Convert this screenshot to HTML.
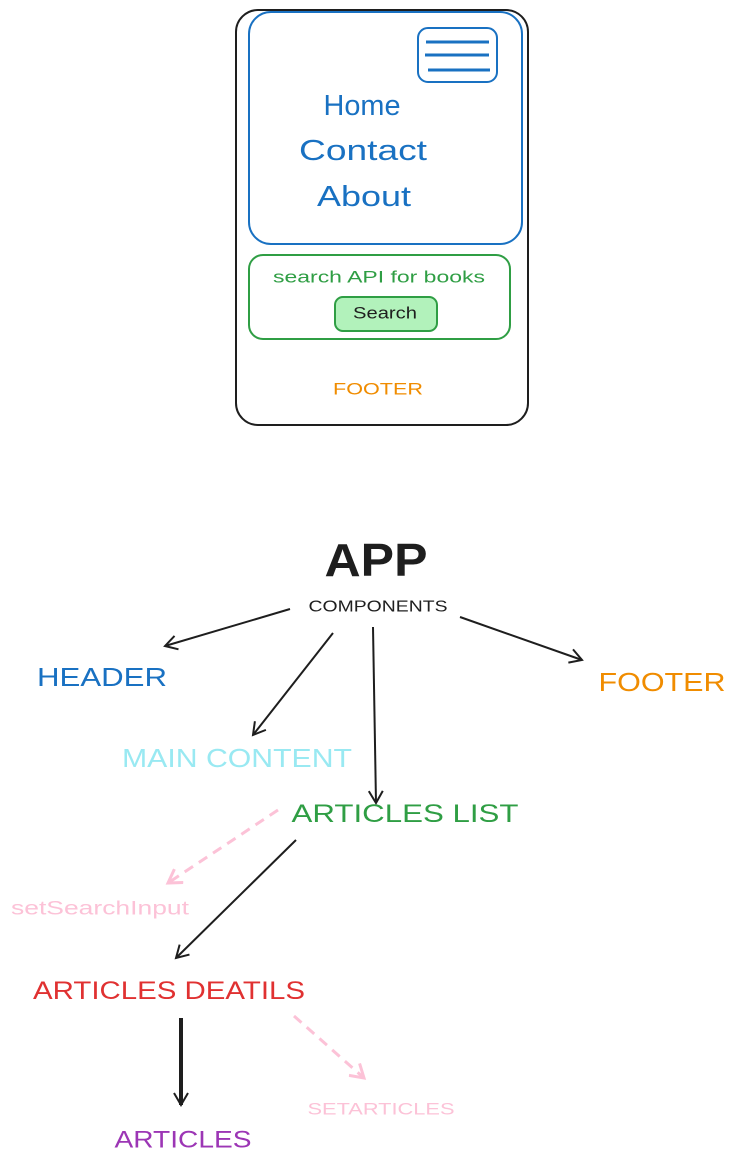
<!DOCTYPE html>
<html><head><meta charset="utf-8"><style>
html,body{margin:0;padding:0;background:#fff;width:741px;height:1168px;overflow:hidden}
svg text{font-family:"Liberation Sans",sans-serif;text-anchor:middle;dominant-baseline:central}
</style></head><body>
<svg width="741" height="1168" viewBox="0 0 741 1168" xmlns="http://www.w3.org/2000/svg">
<defs>
<marker id="ah" markerWidth="16" markerHeight="16" refX="13" refY="8" orient="auto" markerUnits="userSpaceOnUse"><path d="M1,1 L13,8 L1,15" fill="none" stroke="#1e1e1e" stroke-width="2"/></marker>
<marker id="ahp" markerWidth="18" markerHeight="18" refX="14" refY="9" orient="auto" markerUnits="userSpaceOnUse"><path d="M1,1 L14,9 L1,17" fill="none" stroke="#fcc2d7" stroke-width="3"/></marker>
</defs>
<rect x="236" y="10" width="292" height="415" rx="22" fill="none" stroke="#1e1e1e" stroke-width="2"/>
<rect x="249" y="12" width="273" height="232" rx="22" fill="none" stroke="#1971c2" stroke-width="2"/>
<rect x="418" y="28" width="79" height="54" rx="10" fill="none" stroke="#1971c2" stroke-width="2"/>
<g stroke="#1971c2" stroke-width="3"><line x1="426" y1="42" x2="489" y2="42"/><line x1="425" y1="55" x2="489" y2="55"/><line x1="428" y1="70" x2="490" y2="70"/></g>
<g fill="#1971c2" font-size="29"><text x="362" y="106" textLength="77" lengthAdjust="spacingAndGlyphs">Home</text><text x="363" y="151" textLength="128" lengthAdjust="spacingAndGlyphs">Contact</text><text x="364" y="197" textLength="94" lengthAdjust="spacingAndGlyphs">About</text></g>
<rect x="249" y="255" width="261" height="84" rx="14" fill="none" stroke="#2f9e44" stroke-width="2"/>
<text x="379" y="277" fill="#2f9e44" font-size="17" textLength="212" lengthAdjust="spacingAndGlyphs">search API for books</text>
<rect x="335" y="297" width="102" height="34" rx="8" fill="#b2f2bb" stroke="#2f9e44" stroke-width="2"/>
<text x="385" y="313" fill="#1e1e1e" font-size="17" textLength="64" lengthAdjust="spacingAndGlyphs">Search</text>
<text x="378" y="389" fill="#f08c00" font-size="17" textLength="90" lengthAdjust="spacingAndGlyphs">FOOTER</text>
<text x="376" y="560" fill="#1e1e1e" font-size="46" font-weight="bold" textLength="103" lengthAdjust="spacingAndGlyphs">APP</text>
<text x="378" y="607" fill="#1e1e1e" font-size="16" textLength="139" lengthAdjust="spacingAndGlyphs">COMPONENTS</text>
<text x="102" y="677" fill="#1971c2" font-size="26" textLength="130" lengthAdjust="spacingAndGlyphs">HEADER</text>
<text x="662" y="682" fill="#f08c00" font-size="26" textLength="127" lengthAdjust="spacingAndGlyphs">FOOTER</text>
<text x="237" y="758" fill="#99e9f2" font-size="26" textLength="230" lengthAdjust="spacingAndGlyphs">MAIN CONTENT</text>
<text x="405" y="814" fill="#2f9e44" font-size="25" textLength="227" lengthAdjust="spacingAndGlyphs">ARTICLES LIST</text>
<text x="100" y="909" fill="#fcc2d7" font-size="19" textLength="178" lengthAdjust="spacingAndGlyphs">setSearchInput</text>
<text x="169" y="991" fill="#e03131" font-size="25" textLength="272" lengthAdjust="spacingAndGlyphs">ARTICLES DEATILS</text>
<text x="183" y="1140" fill="#9c36b5" font-size="24" textLength="137" lengthAdjust="spacingAndGlyphs">ARTICLES</text>
<text x="381" y="1109" fill="#fcc2d7" font-size="17" textLength="147" lengthAdjust="spacingAndGlyphs">SETARTICLES</text>
<g stroke="#1e1e1e" stroke-width="2" fill="none">
<line x1="290" y1="609" x2="165" y2="646" marker-end="url(#ah)"/>
<line x1="333" y1="633" x2="253" y2="735" marker-end="url(#ah)"/>
<line x1="373" y1="627" x2="376" y2="803" marker-end="url(#ah)"/>
<line x1="460" y1="617" x2="582" y2="660" marker-end="url(#ah)"/>
<line x1="296" y1="840" x2="176" y2="958" marker-end="url(#ah)"/>
<line x1="181" y1="1018" x2="181" y2="1105" stroke-width="4" marker-end="url(#ah)"/>
</g>
<g stroke="#fcc2d7" stroke-width="3" fill="none" stroke-dasharray="10 7">
<line x1="278" y1="810" x2="168" y2="883" marker-end="url(#ahp)"/>
<line x1="294" y1="1016" x2="364" y2="1078" marker-end="url(#ahp)"/>
</g>
</svg>
</body></html>
